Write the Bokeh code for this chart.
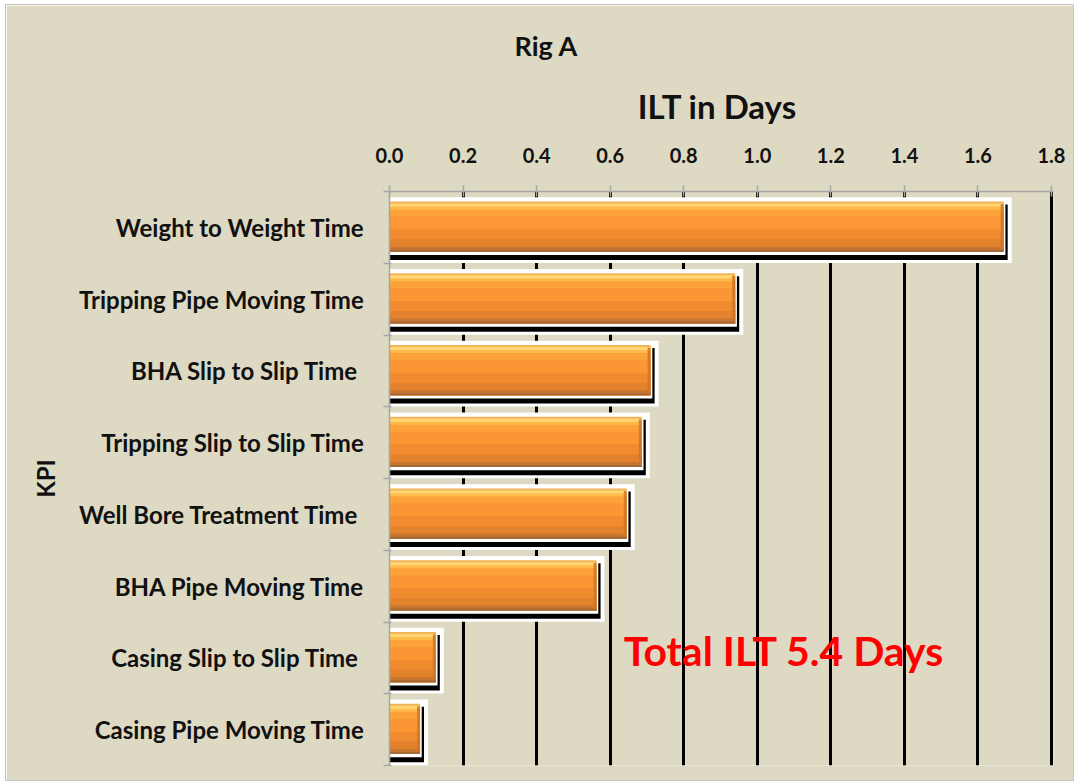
from bokeh.plotting import figure
from bokeh.models import Range1d, FixedTicker, Label, ColumnDataSource, Title
from bokeh.embed import file_html
from bokeh.resources import INLINE

# ---------------- data ----------------
kpis = [
    "Weight to Weight Time",
    "Tripping Pipe Moving Time",
    "BHA Slip to Slip Time ",
    "Tripping Slip to Slip Time",
    "Well Bore Treatment Time ",
    "BHA Pipe Moving Time",
    "Casing Slip to Slip Time ",
    "Casing Pipe Moving Time",
]
ilt_days = [1.670, 0.940, 0.710, 0.686, 0.645, 0.563, 0.126, 0.083]
x_ticks = [0.0, 0.2, 0.4, 0.6, 0.8, 1.0, 1.2, 1.4, 1.6, 1.8]
x_tick_labels = ["0.0", "0.2", "0.4", "0.6", "0.8", "1.0", "1.2", "1.4", "1.6", "1.8"]
chart_title = "Rig A"
x_title = "ILT  in Days"
y_title = "KPI"

# ---------------- layout / style ----------------
BG = "#ddd9c3"
AX = "#a6a6a6"
FONT = "Lato"
W, H = 1067, 775
FW = 662
XMAX = x_ticks[-1]
PX = XMAX / FW  # data units per pixel on x
EXTRA = 2       # px of extra range so the last grid line is not clipped
ML, MT, MB = 383, 186, 15
MR = W - ML - FW - EXTRA

n = len(kpis)
rows = list(range(n))

p = figure(width=W, height=H, x_range=Range1d(0, XMAX + EXTRA * PX), y_range=Range1d(n, 0),
           x_axis_location="above", output_backend="svg", toolbar_location=None,
           min_border_left=ML, min_border_right=MR, min_border_top=MT, min_border_bottom=MB)
p.styles = {"margin-left": "6px", "margin-top": "5px", "outline": "1px solid #c4c4c4"}
p.background_fill_color = BG
p.border_fill_color = BG
p.outline_line_color = None

# grid
p.ygrid.visible = False
p.xgrid.ticker = FixedTicker(ticks=x_ticks[1:])
p.xgrid.grid_line_color = "black"
p.xgrid.grid_line_width = 3

# x axis (top)
xa = p.xaxis[0]
xa.ticker = FixedTicker(ticks=x_ticks)
xa.major_label_overrides = dict(zip(x_ticks, x_tick_labels))
xa.axis_line_color = AX
xa.axis_line_width = 1.5
xa.major_tick_line_color = AX
xa.major_tick_line_width = 1.5
xa.major_tick_out = 6
xa.major_tick_in = 5
xa.minor_tick_line_color = None
xa.major_label_text_font = FONT
xa.major_label_text_font_style = "bold"
xa.major_label_text_font_size = "20px"
xa.major_label_text_color = "#111111"
xa.major_label_standoff = 23
xa.axis_label = x_title
xa.axis_label_text_font = FONT
xa.axis_label_text_font_style = "bold"
xa.axis_label_text_font_size = "33px"
xa.axis_label_text_color = "#111111"
xa.axis_label_standoff = 19

# y axis (left) -- labels at row centres, boundary ticks as minor ticks
ya = p.yaxis[0]
ya.ticker = FixedTicker(ticks=[r + 0.5 for r in rows], minor_ticks=list(range(n + 1)))
ya.major_label_overrides = {r + 0.5: kpis[r] for r in rows}
ya.axis_line_color = AX
ya.axis_line_width = 1.5
ya.major_tick_line_color = None
ya.major_tick_out = 0
ya.major_tick_in = 0
ya.minor_tick_line_color = AX
ya.minor_tick_line_width = 1.5
ya.minor_tick_out = 6
ya.minor_tick_in = 2
ya.major_label_text_font = FONT
ya.major_label_text_font_style = "bold"
ya.major_label_text_font_size = "24px"
ya.major_label_text_color = "#111111"
ya.major_label_standoff = 19
ya.axis_label = y_title
ya.axis_label_text_font = FONT
ya.axis_label_text_font_style = "bold"
ya.axis_label_text_font_size = "24px"
ya.axis_label_text_color = "#111111"
ya.axis_label_standoff = 16

# title
p.add_layout(Title(text=chart_title, align="left", offset=125, standoff=41, text_font=FONT,
                   text_font_style="bold", text_font_size="27px", text_color="#111111"), "above")

# ---------------- bars ----------------
BAR_TOP, BAR_H = 0.14, 0.70

def quads(right_px, top_off, bot_off, left_fn=None):
    return ColumnDataSource(dict(
        left=[0 if left_fn is None else left_fn(v) for v in ilt_days],
        right=[v + right_px * PX for v in ilt_days],
        top=[r + top_off for r in rows],
        bottom=[r + bot_off for r in rows],
    ))

# white frame behind bar + shadow
p.quad(left="left", right="right", top="top", bottom="bottom",
       source=quads(8, 0.08, 0.995), fill_color="white", line_color=None)
# black shadow
p.quad(left="left", right="right", top="top", bottom="bottom",
       source=quads(4, 0.18, 0.955), fill_color="black", line_color=None)
# thin white rim round the bar
p.quad(left="left", right="right", top="top", bottom="bottom",
       source=quads(1.7, BAR_TOP - 0.03, BAR_TOP + BAR_H + 0.046), fill_color="white", line_color=None)

# orange gradient bands (top -> bottom), each drawn down to the bar bottom to avoid seams
bands = [
    (0.00, "#f3b458"),
    (0.04, "#ffd673"),
    (0.10, "#ffba4c"),
    (0.16, "#fda23b"),
    (0.30, "#fa9634"),
    (0.55, "#f08b2f"),
    (0.75, "#e2822c"),
    (0.90, "#c7762f"),
    (0.96, "#a46a3a"),
]
for f0, col in bands:
    p.quad(left="left", right="right", top="top", bottom="bottom",
           source=quads(0, BAR_TOP + f0 * BAR_H, BAR_TOP + BAR_H),
           fill_color=col, line_color=None)
# darker right bevel
p.quad(left="left", right="right", top="top", bottom="bottom",
       source=quads(0, BAR_TOP + 0.05 * BAR_H, BAR_TOP + 0.93 * BAR_H,
                    left_fn=lambda v: v - 3 * PX),
       fill_color="#cf7628", line_color=None, fill_alpha=0.85)

# ---------------- annotations ----------------
total = sum(ilt_days)
p.add_layout(Label(x=0.637, y=6.40, text=f"Total  ILT {total:.1f} Days",
                   text_align="left", text_baseline="middle", text_font=FONT,
                   text_font_style="bold", text_font_size="41px", text_color="#ff0000"))

open("out.html", "w").write(file_html(p, INLINE))
